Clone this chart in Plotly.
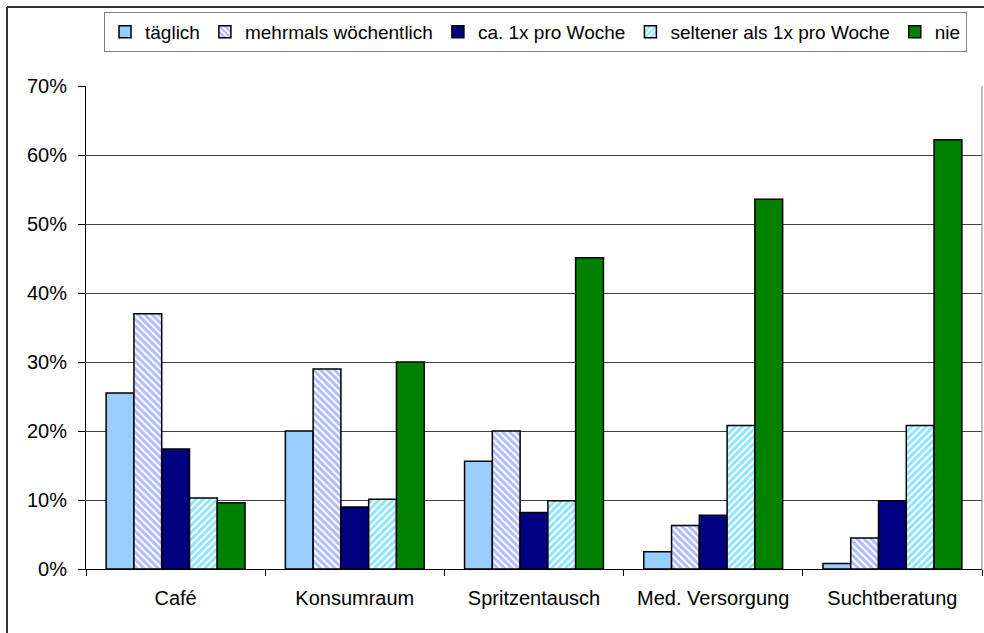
import plotly.graph_objects as go

categories = ["Café", "Konsumraum", "Spritzentausch", "Med. Versorgung", "Suchtberatung"]
series_names = ["täglich", "mehrmals wöchentlich", "ca. 1x pro Woche",
                "seltener als 1x pro Woche", "nie"]
taeglich = [25.5, 20.0, 15.6, 2.5, 0.8]
mehrmals = [37.0, 29.0, 20.0, 6.3, 4.5]
ca_1x = [17.4, 9.0, 8.2, 7.8, 9.9]
seltener = [10.3, 10.1, 9.9, 20.8, 20.8]
nie = [9.6, 30.0, 45.1, 53.6, 62.2]
y_ticks = [0, 10, 20, 30, 40, 50, 60, 70]
y_tick_labels = ["0%", "10%", "20%", "30%", "40%", "50%", "60%", "70%"]

FONT = "Liberation Sans, Arial, sans-serif"
outline = dict(color="black", width=1.5)

fig = go.Figure()
fig.add_bar(name=series_names[0], x=categories, y=taeglich,
            marker=dict(color="#99CCFF", line=outline))
fig.add_bar(name=series_names[1], x=categories, y=mehrmals,
            marker=dict(color="white", line=outline,
                        pattern=dict(shape="\\", fgcolor="#6479F2", bgcolor="white",
                                     size=5, solidity=0.6)))
fig.add_bar(name=series_names[2], x=categories, y=ca_1x,
            marker=dict(color="#000080", line=outline))
fig.add_bar(name=series_names[3], x=categories, y=seltener,
            marker=dict(color="white", line=outline,
                        pattern=dict(shape="/", fgcolor="#22C8FF", bgcolor="white",
                                     size=5, solidity=0.6)))
fig.add_bar(name=series_names[4], x=categories, y=nie,
            marker=dict(color="#008000", line=outline))

fig.update_layout(
    width=984, height=633,
    margin=dict(l=86, r=2, t=86, b=64),
    paper_bgcolor="white", plot_bgcolor="white",
    font=dict(family=FONT, size=20, color="black"),
    barmode="group", bargap=0.225, bargroupgap=0,
    showlegend=True,
    legend=dict(orientation="h", x=0.0201, xanchor="left", y=1.1532, yanchor="top",
                bordercolor="#808080", borderwidth=1, bgcolor="white",
                font=dict(family=FONT, size=19, color="black"),
                itemwidth=30, traceorder="normal"),
    xaxis=dict(showline=True, linecolor="black", linewidth=1,
               ticks="outside", tickson="boundaries", ticklen=6, tickcolor="black",
               showgrid=False, ticklabelstandoff=11),
    yaxis=dict(range=[0, 70], tickvals=y_ticks, ticktext=y_tick_labels,
               showline=True, linecolor="black", linewidth=1,
               ticks="outside", ticklen=7, tickcolor="black",
               showgrid=True, gridcolor="#404040", gridwidth=1,
               zeroline=False, ticklabelstandoff=7),
    shapes=[
        dict(type="line", xref="paper", yref="paper", x0=1, x1=1, y0=0, y1=1,
             line=dict(color="#808080", width=1)),
        dict(type="line", xref="paper", yref="paper",
             x0=(7 - 86) / 896, x1=(7 - 86) / 896, y0=-0.2, y1=(569 - 7) / 483,
             line=dict(color="#333333", width=2)),
        dict(type="line", xref="paper", yref="paper",
             x0=(7 - 86) / 896, x1=1.01, y0=(569 - 7) / 483, y1=(569 - 7) / 483,
             line=dict(color="#333333", width=2)),
    ],
)

fig.write_html("out.html", config={"displayModeBar": False},
               post_script="document.body.style.margin='0';")
